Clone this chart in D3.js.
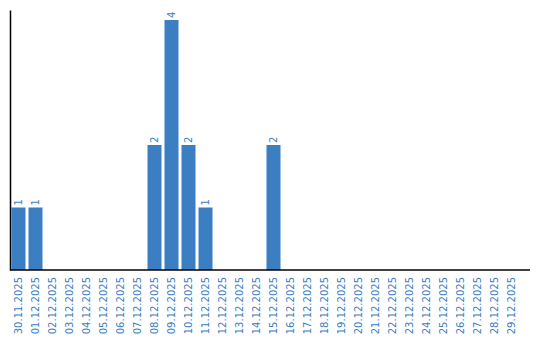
<!DOCTYPE html>
<html>
<head>
<meta charset="utf-8">
<script src="https://cdn.jsdelivr.net/npm/d3@7"></script>
<style>
  body { margin: 0; background: #fff; }
  text { font-family: "DejaVu Sans", sans-serif; }
</style>
</head>
<body>
<div id="chart"></div>
<script>
  const dates = [
    '30.11.2025', '01.12.2025', '02.12.2025', '03.12.2025', '04.12.2025', '05.12.2025',
    '06.12.2025', '07.12.2025', '08.12.2025', '09.12.2025', '10.12.2025', '11.12.2025',
    '12.12.2025', '13.12.2025', '14.12.2025', '15.12.2025', '16.12.2025', '17.12.2025',
    '18.12.2025', '19.12.2025', '20.12.2025', '21.12.2025', '22.12.2025', '23.12.2025',
    '24.12.2025', '25.12.2025', '26.12.2025', '27.12.2025', '28.12.2025', '29.12.2025'
  ];
  const counts = [1, 1, 0, 0, 0, 0, 0, 0, 2, 4, 2, 1, 0, 0, 0, 2, 0, 0, 0, 0, 0, 0, 0, 0, 0, 0, 0, 0, 0, 0];

  const data = dates.map((d, i) => ({ date: d, value: counts[i] }));

  const margin = { top: 10, right: 10, bottom: 70, left: 10 };
  const width = 540 - margin.left - margin.right;
  const height = 340 - margin.top - margin.bottom;
  const color = '#3b7ec2';

  const svg = d3.select('#chart')
    .append('svg')
    .attr('width', 540)
    .attr('height', 340)
    .append('g')
    .attr('transform', `translate(${margin.left},${margin.top})`);

  // bands take 510px, the axis line runs a bit further to the right
  const x = d3.scaleBand()
    .domain(dates)
    .range([0, 510])
    .paddingInner(3 / 17)
    .paddingOuter(1.5 / 17);

  const y = d3.scaleLinear()
    .domain([0, 4.16])
    .range([height, 0]);

  // Bars
  svg.selectAll('.bar')
    .data(data.filter(d => d.value > 0))
    .enter()
    .append('rect')
    .attr('class', 'bar')
    .attr('x', d => x(d.date))
    .attr('y', d => y(d.value))
    .attr('width', x.bandwidth())
    .attr('height', d => height - y(d.value))
    .attr('fill', color);

  // Value labels, rotated
  svg.selectAll('.val')
    .data(data.filter(d => d.value > 0))
    .enter()
    .append('text')
    .attr('class', 'val')
    .attr('transform', d => `translate(${x(d.date) + x.bandwidth() / 2 + 3.5},${y(d.value) - 2}) rotate(-90)`)
    .style('font-size', '10px')
    .style('fill', color)
    .text(d => d.value);

  // X axis
  const xAxis = svg.append('g')
    .attr('transform', `translate(0,${height})`)
    .call(d3.axisBottom(x).tickSize(0).tickSizeOuter(0));

  xAxis.select('.domain').remove();
  xAxis.append('line')
    .attr('x1', 0)
    .attr('x2', width)
    .attr('stroke', '#000')
    .attr('stroke-width', 1.5);

  xAxis.selectAll('text')
    .attr('transform', 'rotate(-90)')
    .attr('x', -7)
    .attr('y', 0)
    .attr('dy', '0.35em')
    .style('text-anchor', 'end')
    .style('font-size', '10px')
    .style('font-family', '"DejaVu Sans", sans-serif')
    .style('fill', color);

  // Y axis line only
  const yAxis = svg.append('g')
    .call(d3.axisLeft(y).ticks(0).tickSize(0).tickSizeOuter(0));
  yAxis.select('.domain').attr('stroke', '#000').attr('stroke-width', 1.5);
  yAxis.selectAll('text').remove();
</script>
</body>
</html>
